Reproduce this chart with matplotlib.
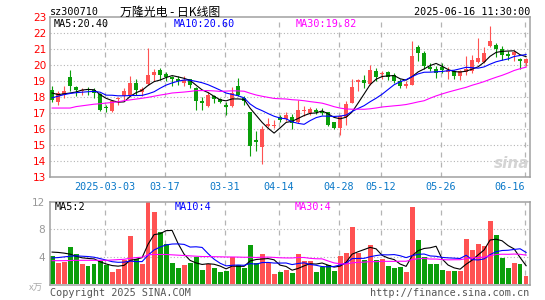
import numpy as np
import pandas as pd
import matplotlib
matplotlib.use('Agg')
import matplotlib.pyplot as plt

# daily candles 2025-02-18 .. 2025-06-16
opens = [18.45, 17.7, 18.15, 19.25, 18.62, 18.38, 18.5, 18.46, 18.2, 17.4,
         17.1, 17.85, 18.08, 18.15, 18.85, 18.3, 18.8, 19.4, 19.7, 19.45,
         19.25, 19.1, 18.9, 19.1, 18.55, 17.75, 17.42, 18.05, 17.85, 17.48,
         17.45, 18.67, 17.95, 17.04, 15.3, 14.9, 16.2, 16.2, 16.72, 16.6,
         16.72, 16.42, 17.1, 17.02, 17.2, 17.1, 17.04, 16.42, 16.08, 16.75,
         17.62, 18.95, 19.05, 18.8, 19.6, 19.46, 19.55, 19.35, 19.0, 18.7,
         18.75, 21.1, 20.78, 19.9, 19.75, 19.87, 19.54, 19.6, 19.33, 19.56,
         19.6, 20.2, 20.2, 21.2, 21.27, 21.0, 20.7, 20.6, 20.35, 20.13]
highs = [18.7, 18.35, 18.7, 19.71, 18.7, 18.56, 18.62, 18.56, 18.25, 17.5,
         17.75, 18.0, 18.56, 19.3, 19.1, 18.62, 21.05, 19.75, 19.8, 19.55,
         19.3, 19.3, 19.3, 19.15, 18.62, 18.0, 18.3, 18.15, 17.95, 17.7,
         18.6, 19.2, 18.05, 17.05, 15.85, 16.2, 16.7, 16.55, 16.85, 17.05,
         16.95, 17.8, 17.45, 17.4, 17.3, 17.3, 17.06, 16.45, 16.85, 17.78,
         19.1, 19.12, 19.35, 20.0, 19.8, 19.6, 19.6, 19.5, 19.1, 18.98,
         21.48, 21.27, 20.85, 20.1, 19.96, 20.1, 19.9, 19.7, 19.7, 20.55,
         20.62, 21.7, 21.1, 22.45, 21.37, 21.17, 20.85, 20.96, 20.44, 20.44]
lows = [17.67, 17.5, 17.95, 18.35, 18.04, 18.15, 18.15, 17.94, 17.1, 17.05,
        17.05, 17.5, 17.8, 18.1, 18.15, 18.04, 18.75, 18.98, 19.08, 18.98,
        18.7, 18.77, 18.7, 18.56, 17.2, 17.2, 17.35, 17.6, 17.6, 16.9,
        17.35, 18.04, 17.5, 14.3, 14.6, 13.8, 16.12, 16.05, 16.45, 16.52,
        16.03, 16.35, 16.8, 16.9, 16.95, 16.9, 16.2, 16.0, 15.6, 16.25,
        17.6, 18.4, 18.55, 18.77, 18.98, 19.1, 19.08, 18.9, 18.56, 18.56,
        18.72, 20.23, 19.75, 19.6, 19.19, 19.5, 19.1, 19.12, 19.04, 19.4,
        19.5, 20.12, 20.12, 21.1, 20.52, 20.33, 20.3, 20.23, 19.78, 19.96]
closes = [17.8, 18.25, 18.35, 18.71, 18.46, 18.42, 18.42, 18.25, 17.2, 17.3,
          17.73, 17.9, 18.35, 18.9, 18.46, 18.5, 19.4, 19.54, 19.4, 19.25,
          19.1, 19.0, 19.08, 18.77, 17.73, 17.65, 18.15, 17.9, 17.7, 17.4,
          18.25, 18.15, 17.75, 14.96, 15.18, 16.03, 16.32, 16.23, 16.58, 16.9,
          16.38, 17.2, 17.15, 17.25, 17.06, 17.0, 16.27, 16.05, 16.8, 17.55,
          18.65, 19.05, 18.9, 19.7, 19.25, 19.5, 19.25, 19.0, 18.7, 18.83,
          20.58, 20.73, 19.93, 19.75, 19.5, 19.7, 19.7, 19.3, 19.6, 19.77,
          20.33, 20.44, 20.72, 21.47, 20.98, 20.65, 20.54, 20.8, 20.24, 20.38]
volumes = [4.08, 3.1, 3.25, 5.44, 4.37, 2.92, 2.63, 2.92, 3.35, 2.78,
           1.75, 2.19, 3.5, 6.99, 3.6, 2.92, 12.0, 10.5, 7.63, 5.83,
           3.1, 2.38, 2.78, 3.1, 3.98, 1.99, 2.92, 2.38, 1.8, 1.94,
           3.98, 2.78, 2.38, 5.69, 3.0, 4.37, 3.1, 1.46, 1.8, 2.04,
           1.65, 4.37, 3.35, 3.35, 1.8, 2.43, 2.78, 1.94, 4.08, 4.57,
           8.36, 4.57, 3.5, 5.69, 3.5, 3.6, 2.63, 2.38, 2.43, 1.8,
           11.27, 6.41, 3.98, 2.92, 2.92, 2.04, 1.94, 1.94, 1.94, 6.55,
           4.95, 5.83, 5.54, 9.19, 7.14, 3.79, 2.33, 3.1, 2.92, 1.17]

# moving averages at the left edge (history before the window)
ma5_head = [18.25, 18.15, 18.2, 18.25]
ma10_head = [17.95, 18.05, 18.15, 18.22, 18.27, 18.3, 18.33, 18.35, 18.3]
ma30_head = [17.31, 17.31, 17.31, 17.31, 17.4, 17.45, 17.5, 17.55, 17.58, 17.62,
             17.66, 17.7, 17.77, 17.82, 17.87, 17.92, 17.98, 18.05, 18.12, 18.18,
             18.25, 18.28, 18.31, 18.35, 18.4, 18.4, 18.4, 18.38, 18.35]
vma5_head = [4.65, 4.6, 4.5, 4.35]
vma10_head = [3.8, 3.85, 3.95, 4.05, 4.1, 4.05, 4.0, 3.9, 3.7]
vma30_head = [3.4, 3.4, 3.4, 3.42, 3.45, 3.45, 3.45, 3.45, 3.45, 3.45,
              3.5, 3.55, 3.6, 3.75, 3.85, 3.9, 4.25, 4.3, 4.3, 4.3,
              4.25, 4.2, 4.15, 4.1, 4.05, 4.0, 4.0, 3.98, 3.96]

holidays = ['2025-04-04', '2025-05-01', '2025-05-02', '2025-05-05', '2025-06-02']
tick_dates = ['2025-03-03', '2025-03-17', '2025-03-31', '2025-04-14',
              '2025-04-28', '2025-05-12', '2025-05-26', '2025-06-16']
price_ticks = [13, 14, 15, 16, 17, 18, 19, 20, 21, 22, 23]
vol_ticks = [4, 8, 12]

UP = '#ff5252'
DOWN = '#0a9e0a'
MONO = ['DejaVu Sans Mono', 'Noto Sans CJK SC']
W, H = 545, 300


def px(x, y):
    return x / W, 1 - y / H


def moving_avg(vals, n, head):
    out = pd.Series(vals).rolling(n).mean().to_numpy()
    out[:len(head)] = head
    return out


days = pd.bdate_range('2025-02-18', '2025-06-16')
days = days[~days.isin(pd.to_datetime(holidays))]
x = np.arange(len(days))
tick_pos = days.get_indexer(pd.to_datetime(tick_dates))
tick_labels = [d if k == 0 else d[5:] for k, d in enumerate(tick_dates)]

o = np.array(opens)
c = np.array(closes)
cols = [UP if cc >= oo else DOWN for oo, cc in zip(o, c)]

fig = plt.figure(figsize=(W / 100, H / 100), dpi=100)

# price panel
ax = fig.add_axes([50 / W, 123 / H, 480 / W, 160 / H])
ax.set_xlim(-0.35, len(x) - 0.35)
ax.set_ylim(13, 23)
for p in price_ticks[1:-1]:
    ax.axhline(p, color='#b4b4b4', lw=0.8, ls=(0, (1, 2)), zorder=0)
for t in tick_pos:
    ax.axvline(t - 0.22, color='#b4b4b4', lw=0.9, ls=(0, (4, 4)), zorder=0)

ax.vlines(x, lows, highs, colors=cols, lw=0.8, zorder=2)
body = np.maximum(np.abs(c - o), 0.07)
ax.bar(x, body, bottom=np.minimum(o, c), width=0.72, color=cols, lw=0, zorder=3)

ax.plot(x, moving_avg(closes, 5, ma5_head), color='black', lw=0.8, zorder=4)
ax.plot(x, moving_avg(closes, 10, ma10_head), color='#0000ff', lw=0.8, zorder=4)
ax.plot(x, moving_avg(closes, 30, ma30_head), color='#ff00ff', lw=0.8, zorder=4)

ax.set_yticks(price_ticks)
ax.set_yticklabels([str(p) for p in price_ticks], color='#ff0000', fontsize=7.6)
ax.set_xticks(tick_pos - 0.22)
ax.set_xticklabels(tick_labels, color='#0a78c8', fontsize=7.3, family=MONO)
ax.get_xticklabels()[-1].set_ha('right')
ax.tick_params(length=0, pad=2.5)
ax.tick_params(axis='x', pad=3.5)
for s in ax.spines.values():
    s.set_color('#a0a0a0')
    s.set_linewidth(1.1)

# volume panel
vax = fig.add_axes([50 / W, 15 / H, 480 / W, 83.3 / H])
vax.set_xlim(-0.35, len(x) - 0.35)
vax.set_ylim(-0.15, 12)
for v in vol_ticks[:-1]:
    vax.axhline(v, color='#b4b4b4', lw=0.8, ls=(0, (1, 2)), zorder=0)
for t in tick_pos:
    vax.axvline(t - 0.22, color='#b4b4b4', lw=0.9, ls=(0, (4, 4)), zorder=0)
vax.bar(x, volumes, width=0.8, color=cols, lw=0, zorder=2)
vax.plot(x, moving_avg(volumes, 5, vma5_head), color='black', lw=0.8, zorder=4)
vax.plot(x, moving_avg(volumes, 10, vma10_head), color='#0000ff', lw=0.8, zorder=4)
vax.plot(x, moving_avg(volumes, 30, vma30_head), color='#ff00ff', lw=0.8, zorder=4)
vax.set_yticks(vol_ticks)
vax.set_yticklabels([str(v) for v in vol_ticks], color='#999999', fontsize=7.6)
vax.set_xticks([])
vax.tick_params(length=0, pad=3.5)
for s in vax.spines.values():
    s.set_color('#a0a0a0')
    s.set_linewidth(1.1)

# header and legends
fs = 7.3
fig.text(*px(50, 12), 'sz300710', ha='left', va='center', fontsize=fs, family=MONO)
fig.text(*px(120, 12), '万隆光电 - 日K线图', ha='left', va='center', fontsize=8.6,
         family=['Noto Sans CJK SC', 'DejaVu Sans'])
fig.text(*px(530, 12), '2025-06-16 11:30:00', ha='right', va='center', fontsize=fs, family=MONO)
fig.text(*px(54, 24), 'MA5:20.40', ha='left', va='center', fontsize=fs, family=MONO, color='black')
fig.text(*px(174, 24), 'MA10:20.60', ha='left', va='center', fontsize=fs, family=MONO, color='#0000ff')
fig.text(*px(296, 24), 'MA30:19.82', ha='left', va='center', fontsize=fs, family=MONO, color='#ff00ff')
fig.text(*px(55, 206.5), 'MA5:2', ha='left', va='center', fontsize=fs, family=MONO, color='black')
fig.text(*px(175, 206.5), 'MA10:4', ha='left', va='center', fontsize=fs, family=MONO, color='#0000ff')
fig.text(*px(295, 206.5), 'MA30:4', ha='left', va='center', fontsize=fs, family=MONO, color='#ff00ff')

# footer
fig.text(*px(36, 287), 'x万', ha='center', va='center', fontsize=6.8, color='#aaaaaa',
         family=['Noto Sans CJK SC', 'DejaVu Sans'], style='italic')
fig.text(*px(50, 292.5), 'Copyright 2025 SINA.COM', ha='left', va='center', fontsize=fs,
         family=MONO, color='#555555')
fig.text(*px(529, 292.5), 'http://finance.sina.com.cn', ha='right', va='center', fontsize=fs,
         family=MONO, color='#555555')

# watermark
fig.text(*px(512, 164), 'sina', ha='center', va='center', fontsize=11, fontweight='bold',
         style='italic', color='#d4d4d4', zorder=1)

fig.savefig('out.png', dpi=100)
